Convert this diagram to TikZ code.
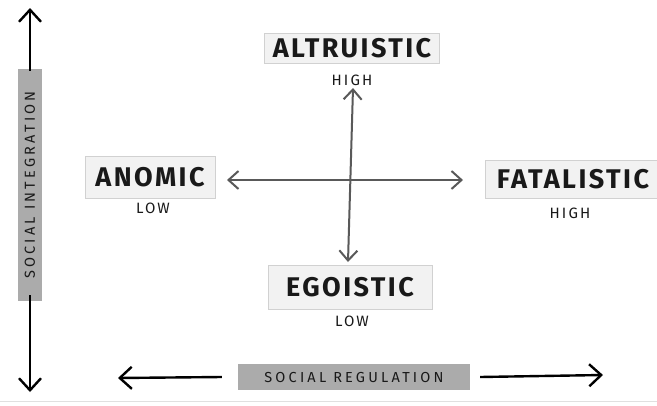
\documentclass[tikz,border=0pt]{standalone}
\usepackage{fontspec}
\setmainfont{Fira Sans}
\usetikzlibrary{arrows.meta}
\tikzset{
  lbl/.style={fill=black!5, draw=black!18, inner sep=0pt, text=black!90,
    font=\fontsize{27}{29}\selectfont\bfseries\addfontfeatures{LetterSpace=9}},
  sub/.style={inner sep=0pt, text=black!90,
    font=\fontsize{15}{17}\selectfont\addfontfeatures{LetterSpace=14}},
  band/.style={fill=black!33, inner sep=0pt, text=black!90,
    font=\fontsize{14.5}{16}\selectfont\addfontfeatures{LetterSpace=22}},
  bigtip/.tip={Straight Barb[length=12pt,width=22pt]},
  smalltip/.tip={Straight Barb[length=10pt,width=18pt]},
  axarr/.style={line width=2.4pt, black, -{bigtip}},
  crossarr/.style={line width=2pt, black!65, {smalltip}-{smalltip}}
}
\begin{document}
\begin{tikzpicture}[x=1pt,y=-1pt]
\useasboundingbox (0,0) rectangle (657,405);
\fill[white] (0,0) rectangle (657,405);
\draw[black!12, line width=1pt] (0,401) -- (657,401);
% category boxes
\node[lbl, minimum width=175, minimum height=30] (alt) at (352,48) {ALTRUISTIC};
\node[sub] (althigh) at (352,80) {HIGH};
\node[lbl, minimum width=130, minimum height=42] (ano) at (150,177) {ANOMIC};
\node[sub] (anolow) at (153,208) {LOW};
\node[lbl, minimum width=175, minimum height=38] (fat) at (573,179) {FATALISTIC};
\node[sub] (fathigh) at (570,213) {HIGH};
\node[lbl, minimum width=164, minimum height=44] (ego) at (350,287) {EGOISTIC};
\node[sub] (egolow) at (352,321) {LOW};
% cross arrows
\coordinate (vt) at (353,88);
\coordinate (vb) at (348,262);
\coordinate (hl) at (227,180);
\coordinate (hr) at (463,180);
\draw[crossarr] (vt) -- (vb);
\draw[crossarr] (hl) -- (hr);
% social integration
\node[band, rotate=90, minimum width=232, minimum height=24] (integ) at (30,185) {SOCIAL INTEGRATION};
\coordinate (intop) at (30,8);
\coordinate (inbot) at (30,392);
\draw[axarr] ([yshift=-2]integ.east) -- (intop);
\draw[axarr] ([yshift=6]integ.west) -- (inbot);
% social regulation
\node[band, minimum width=232, minimum height=26] (reg) at (354,377) {SOCIAL REGULATION};
\coordinate (regl) at (118,378);
\coordinate (regr) at (603,375);
\draw[axarr] ([xshift=-16]reg.west) -- (regl);
\draw[axarr] ([xshift=10]reg.east) -- (regr);
\end{tikzpicture}
\end{document}
